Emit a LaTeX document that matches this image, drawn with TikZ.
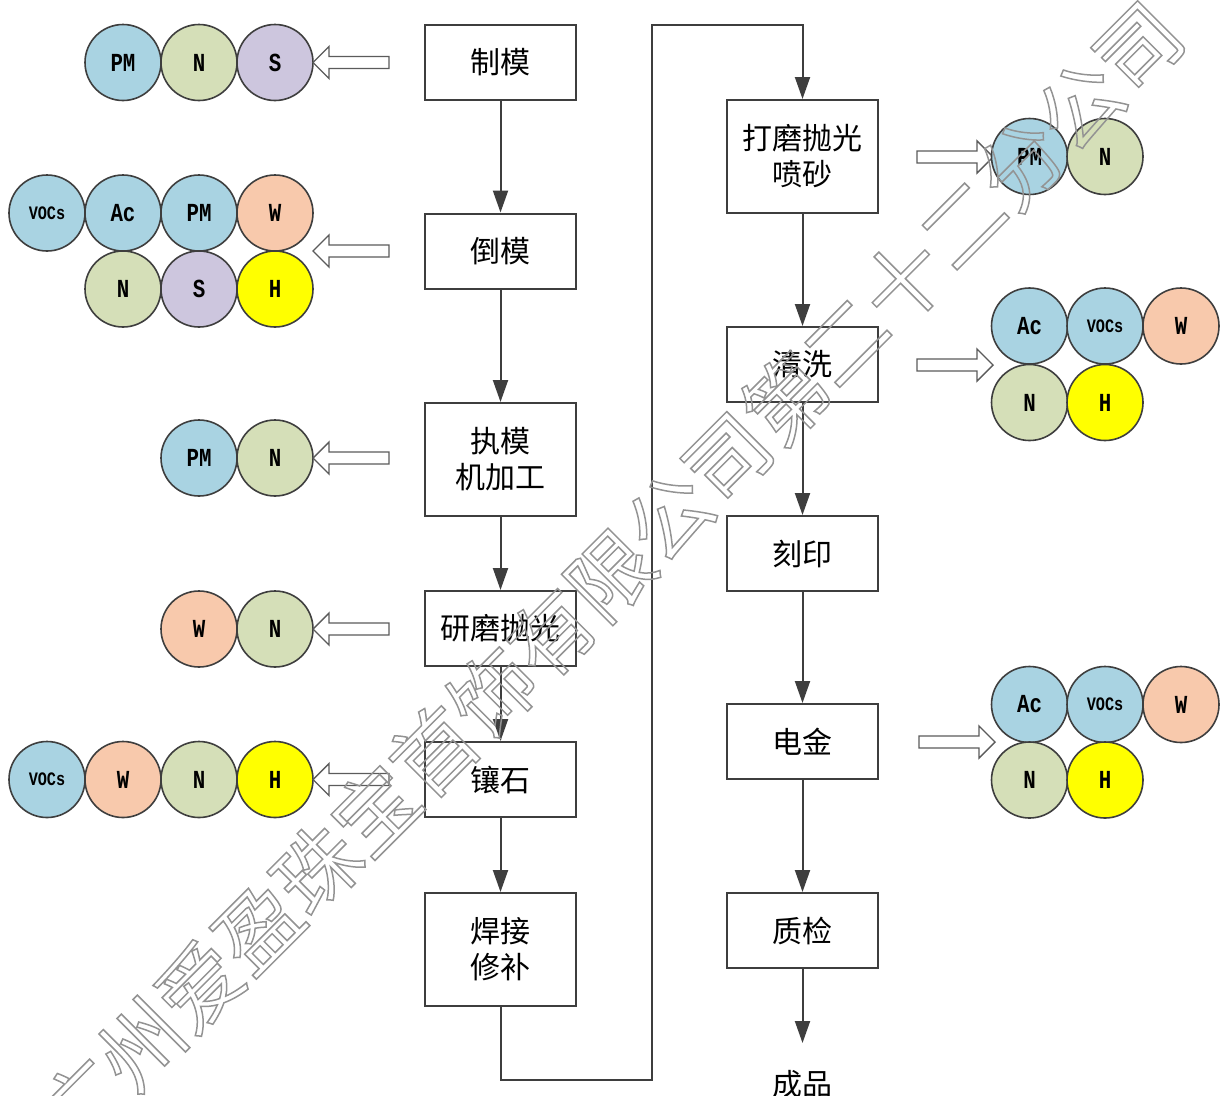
\documentclass[tikz,border=0pt]{standalone}
\usepackage{fontspec}
\setmainfont{Noto Sans CJK SC}
\newfontfamily\cfont{Liberation Mono}[FakeStretch=0.8]
\newfontfamily\wmfont{Noto Sans CJK SC}[FakeBold=1.8]
\usetikzlibrary{arrows.meta}
\definecolor{cblue}{HTML}{A9D3E2}
\definecolor{cgreen}{HTML}{D5DFB8}
\definecolor{clav}{HTML}{CDC6DE}
\definecolor{cpeach}{HTML}{F8C9AC}
\definecolor{cyel}{HTML}{FFFF00}
\definecolor{edge}{HTML}{3E3E3E}
\definecolor{wmgray}{HTML}{939393}
\newcommand\wmtext[1]{\pgfsetfillopacity{0}\wmfont\fontsize{83}{83}\selectfont #1}
\tikzset{
  procbox/.style={draw=edge, line width=2pt, fill=white, minimum width=151pt, minimum height=75pt, inner sep=0pt, align=center, font=\fontsize{30}{36}\selectfont},
  tallbox/.style={procbox, minimum height=113pt},
  flow/.style={draw=edge, line width=2pt, -{Triangle[length=22pt,width=15pt]}},
  ball/.style={circle, draw=edge, line width=1.6pt, minimum size=76pt, inner sep=0pt, font=\cfont\bfseries\fontsize{26}{26}\selectfont},
  smallball/.style={ball, font=\cfont\bfseries\fontsize{19}{19}\selectfont},
  harrow/.style={draw=edge!85, line width=1.4pt, fill=white, line join=miter},
  hollowarrow/.pic={\path[harrow] (0,0) -- (16,-16) -- (16,-6) -- (76,-6) -- (76,6) -- (16,6) -- (16,16) -- cycle;},
  wm/.style={rotate=45, text=wmgray, inner sep=0pt}
}
\begin{document}
\begin{tikzpicture}[x=1pt,y=-1pt]
\path[fill=white] (0,0) rectangle (1220,1095);
\useasboundingbox (0,0) rectangle (1220,1095);

% left column
\node[procbox] (b1) at (500.5,62.5) {制模};
\node[procbox] (b2) at (500.5,251) {倒模};
\node[tallbox] (b3) at (500.5,459.5) {执模\\机加工};
\node[procbox] (b4) at (500.5,628.5) {研磨抛光};
\node[procbox] (b5) at (500.5,779.5) {镶石};
\node[tallbox] (b6) at (500.5,949.5) {焊接\\修补};

% right column
\node[tallbox] (r1) at (802.5,156.5) {打磨抛光\\喷砂};
\node[procbox] (r2) at (802.5,364.5) {清洗};
\node[procbox] (r3) at (802.5,553.5) {刻印};
\node[procbox] (r4) at (802.5,741.5) {电金};
\node[procbox] (r5) at (802.5,930.5) {质检};
\node[font=\fontsize{30}{36}\selectfont, inner sep=0pt] (cp) at (802.5,1084) {成品};

% connectors
\draw[flow] (b1) -- (b2);
\draw[flow] (b2) -- (b3);
\draw[flow] (b3) -- (b4);
\draw[flow] (b4) -- (b5);
\draw[flow] (b5) -- (b6);
\coordinate (c1) at (652,1080);
\coordinate (c2) at (652,25);
\draw[flow] (b6.south) |- (c1) -- (c2) -| (r1.north);
\draw[flow] (r1) -- (r2);
\draw[flow] (r2) -- (r3);
\draw[flow] (r3) -- (r4);
\draw[flow] (r4) -- (r5);
\coordinate (cpin) at (802.5,1043);
\draw[flow] (r5.south) -- (cpin);

% group 1 (制模)
\node[ball, fill=cblue] (g1a) at (123,62.5) {PM};
\node[ball, fill=cgreen] (g1b) at (199,62.5) {N};
\node[ball, fill=clav] (g1c) at (275,62.5) {S};
\pic at (313,62.5) {hollowarrow};

% group 2 (倒模)
\node[smallball, fill=cblue] (g2a) at (47,213) {VOCs};
\node[ball, fill=cblue] (g2b) at (123,213) {Ac};
\node[ball, fill=cblue] (g2c) at (199,213) {PM};
\node[ball, fill=cpeach] (g2d) at (275,213) {W};
\node[ball, fill=cgreen] (g2e) at (123,289) {N};
\node[ball, fill=clav] (g2f) at (199,289) {S};
\node[ball, fill=cyel] (g2g) at (275,289) {H};
\pic at (313,251) {hollowarrow};

% group 3 (执模)
\node[ball, fill=cblue] (g3a) at (199,458) {PM};
\node[ball, fill=cgreen] (g3b) at (275,458) {N};
\pic at (313,458) {hollowarrow};

% group 4 (研磨)
\node[ball, fill=cpeach] (g4a) at (199,629) {W};
\node[ball, fill=cgreen] (g4b) at (275,629) {N};
\pic at (313,629) {hollowarrow};

% group 5 (镶石)
\node[smallball, fill=cblue] (g5a) at (47,779.5) {VOCs};
\node[ball, fill=cpeach] (g5b) at (123,779.5) {W};
\node[ball, fill=cgreen] (g5c) at (199,779.5) {N};
\node[ball, fill=cyel] (g5d) at (275,779.5) {H};
\pic at (313,779.5) {hollowarrow};

% group 6 (打磨)
\pic[xscale=-1] at (993,157) {hollowarrow};
\node[ball, fill=cblue] (g6a) at (1029.5,156.5) {PM};
\node[ball, fill=cgreen] (g6b) at (1105,156.5) {N};

% group 7 (清洗)
\pic[xscale=-1] at (993,365) {hollowarrow};
\node[ball, fill=cblue] (g7a) at (1029.5,326) {Ac};
\node[smallball, fill=cblue] (g7b) at (1105,326) {VOCs};
\node[ball, fill=cpeach] (g7c) at (1181,326) {W};
\node[ball, fill=cgreen] (g7d) at (1029.5,402.5) {N};
\node[ball, fill=cyel] (g7e) at (1105,402.5) {H};

% group 8 (电金)
\pic[xscale=-1] at (995,742) {hollowarrow};
\node[ball, fill=cblue] (g8a) at (1029.5,704.5) {Ac};
\node[smallball, fill=cblue] (g8b) at (1105,704.5) {VOCs};
\node[ball, fill=cpeach] (g8c) at (1181,704.5) {W};
\node[ball, fill=cgreen] (g8d) at (1029.5,780) {N};
\node[ball, fill=cyel] (g8e) at (1105,780) {H};

% watermark
\node[wm] (wmk) at (610,575) {\wmtext{广州爱盈珠宝首饰有限公司第二十二分公司}};
\end{tikzpicture}
\end{document}
